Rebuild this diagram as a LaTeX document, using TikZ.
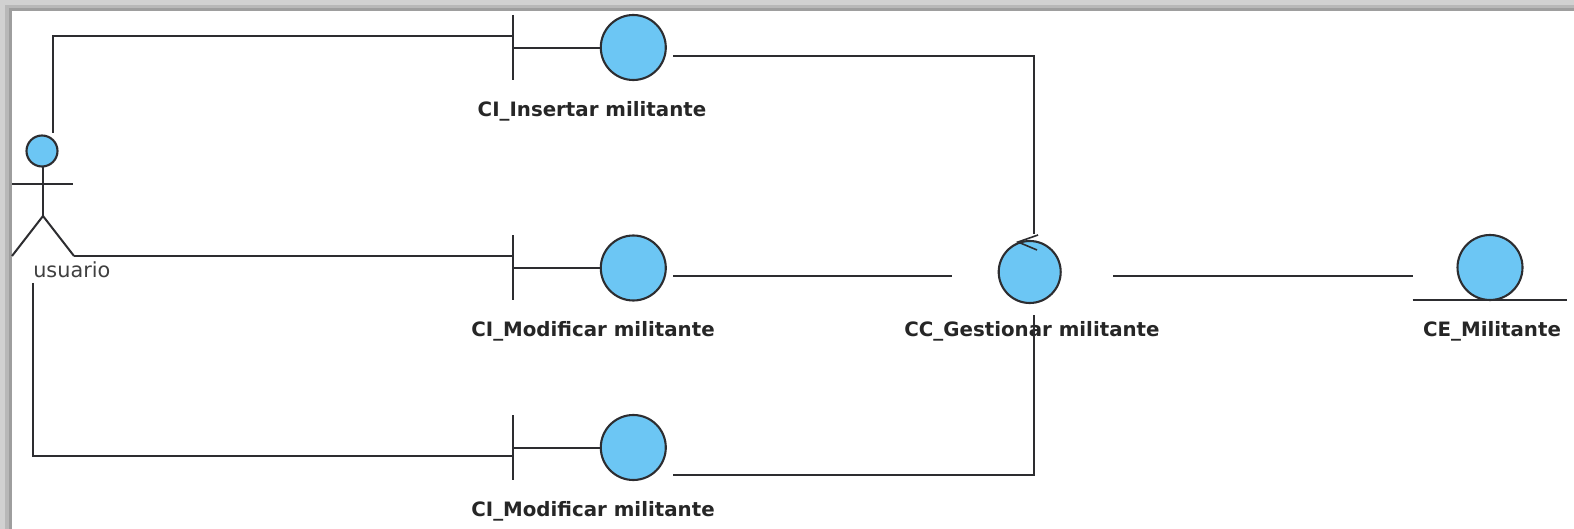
\documentclass[tikz,border=0pt]{standalone}
\usepackage{fontspec}
\setmainfont{DejaVu Sans}
\definecolor{fillblue}{RGB}{108,198,244}
\definecolor{ink}{RGB}{45,45,48}
\tikzset{
  ball/.style={circle,draw=ink,fill=fillblue,line width=2.1pt,inner sep=0pt},
  lab/.style={font=\fontsize{19.8pt}{22pt}\selectfont\bfseries,text=black!85,inner sep=0pt,anchor=base},
  conn/.style={line width=2pt,draw=ink}
}
\begin{document}
\begin{tikzpicture}[x=1pt,y=-1pt]
\useasboundingbox (0,0) rectangle (1574,529);
\fill[white] (0,0) rectangle (1574,529);
% frame shadow
\fill[black!18] (0,0) rectangle (1574,5);
\fill[black!28] (0,5) rectangle (1574,8);
\fill[black!38] (0,8) rectangle (1574,11);
\fill[black!18] (0,0) rectangle (5,529);
\fill[black!28] (5,5) rectangle (9,529);
\fill[black!38] (9,8) rectangle (12,529);
\fill[white] (12,11) rectangle (1574,529);
% actor
\node[ball,minimum size=31pt] (actorhead) at (42,151) {};
\coordinate (hip) at (43,216);
\coordinate (neck) at (43,166);
\coordinate (armL) at (12,183.7);
\coordinate (armR) at (73,183.7);
\coordinate (footL) at (12,256);
\coordinate (footR) at (74,256);
\draw[conn] (neck) -- (hip);
\draw[conn] (armL) -- (armR);
\draw[conn] (footL) -- (hip) -- (footR);
\node[lab,font=\fontsize{20.8pt}{22pt}\selectfont,text=black!75] (usuario) at (71.8,278) {usuario};
% boundaries
\node[ball,minimum size=65pt] (b1) at (633.3,47.5) {};
\node[ball,minimum size=65pt] (b2) at (633.3,268) {};
\node[ball,minimum size=65pt] (b3) at (633.3,447.5) {};
\coordinate (b1t) at (513.3,15);
\coordinate (b1b) at (513.3,80);
\coordinate (b2t) at (513.3,235.5);
\coordinate (b2b) at (513.3,300.5);
\coordinate (b3t) at (513.3,415);
\coordinate (b3b) at (513.3,480);
\coordinate (b1m) at (513.3,48);
\coordinate (b2m) at (513.3,268);
\coordinate (b3m) at (513.3,448);
\draw[conn] (b1t) -- (b1b);
\draw[conn] (b2t) -- (b2b);
\draw[conn] (b3t) -- (b3b);
\draw[conn] (b1m) -- (b1.west |- b1m);
\draw[conn] (b2m) -- (b2.west |- b2m);
\draw[conn] (b3m) -- (b3.west |- b3m);
\node[lab] (l1) at (592,116.7) {CI\_Insertar militante};
\node[lab] (l2) at (593,336.7) {CI\_Modificar militante};
\node[lab] (l3) at (593,516) {CI\_Modificar militante};
% control
\node[ball,minimum size=62pt] (cc) at (1029.7,272) {};
\coordinate (ah) at (1018,242);
\draw[line width=1.6pt,draw=ink] (1038,235) -- (ah) -- (1037,250);
\node[lab] (l4) at (1032,336.7) {CC\_Gestionar militante};
% entity
\node[ball,minimum size=65pt] (ce) at (1490,267.5) {};
\coordinate (e1) at (1412.7,300);
\coordinate (e2) at (1566.7,300);
\draw[conn] (e1) -- (e2);
\node[lab] (l5) at (1492,336.7) {CE\_Militante};
% connectors
\coordinate (a1) at (52.7,133);
\coordinate (a2) at (33,283);
\coordinate (s1) at (513.3,35.7);
\coordinate (s2) at (513.3,256);
\coordinate (s3) at (513.3,455.7);
\draw[conn] (a1) |- (s1);
\draw[conn] (footR) -- (s2);
\draw[conn] (a2) |- (s3);
\coordinate (c1s) at (673,56);
\coordinate (c1e) at (1033.7,234);
\draw[conn] (c1s) -| (c1e);
\coordinate (c2s) at (673,275.7);
\coordinate (c2e) at (951.7,275.7);
\draw[conn] (c2s) -- (c2e);
\coordinate (c3s) at (673,475);
\coordinate (c3e) at (1033.7,315);
\draw[conn] (c3s) -| (c3e);
\coordinate (c4s) at (1113,275.7);
\coordinate (c4e) at (1412.7,275.7);
\draw[conn] (c4s) -- (c4e);
\end{tikzpicture}
\end{document}
